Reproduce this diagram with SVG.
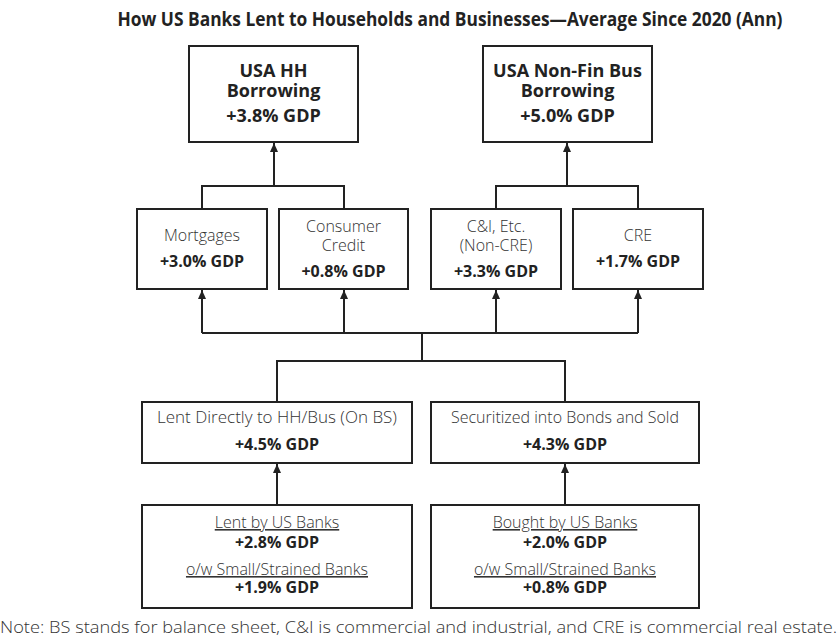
<svg xmlns="http://www.w3.org/2000/svg" width="840" height="644" viewBox="0 0 840 644">
<style>
  .box { fill: #fff; stroke: #222; stroke-width: 2; }
  .ln { fill: none; stroke: #222; stroke-width: 2; }
  text { font-family: "Open Sans", "Noto Sans", "Liberation Sans", sans-serif; fill: #222; text-anchor: middle; }
  .t { font-size: 16px; font-weight: 300; fill: #333; }
  .b { font-size: 16px; font-weight: 700; }
  .hb { font-size: 18px; font-weight: 700; }
  .u { text-decoration: underline; }
  .title { font-size: 19px; font-weight: 700; }
  .note { font-size: 16px; font-weight: 300; text-anchor: start; fill: #333; }
</style>
<defs>
  <marker id="ah" viewBox="0 0 9 10" refX="9" refY="5" markerWidth="9" markerHeight="10" markerUnits="userSpaceOnUse" orient="auto">
    <path d="M0,1 L9,5 L0,9 Z" fill="#222"/>
  </marker>
</defs>
<rect width="840" height="644" fill="#fff"/>
<text class="title" x="450" y="26" textLength="665" lengthAdjust="spacingAndGlyphs">How US Banks Lent to Households and Businesses—Average Since 2020 (Ann)</text>

<g id="connectors">
  <path class="ln" d="M202,209 V186 H344 V209"/>
  <path class="ln" d="M274,186 V143" marker-end="url(#ah)"/>
  <path class="ln" d="M496,209 V186 H638 V209"/>
  <path class="ln" d="M567,186 V143" marker-end="url(#ah)"/>
  <path class="ln" d="M202,333 H638"/>
  <path class="ln" d="M202,333 V290" marker-end="url(#ah)"/>
  <path class="ln" d="M344,333 V290" marker-end="url(#ah)"/>
  <path class="ln" d="M496,333 V290" marker-end="url(#ah)"/>
  <path class="ln" d="M638,333 V290" marker-end="url(#ah)"/>
  <path class="ln" d="M422,333 V361"/>
  <path class="ln" d="M277,402 V361 H565 V402"/>
  <path class="ln" d="M277,505 V464" marker-end="url(#ah)"/>
  <path class="ln" d="M565,505 V464" marker-end="url(#ah)"/>
</g>

<g id="hh">
  <rect class="box" x="189" y="46" width="169" height="96"/>
  <text class="hb" x="273.5" y="77">USA HH</text>
  <text class="hb" x="273.5" y="97">Borrowing</text>
  <text class="hb" x="273.5" y="122">+3.8% GDP</text>
</g>
<g id="bus">
  <rect class="box" x="483" y="46" width="169" height="96"/>
  <text class="hb" x="567.5" y="77">USA Non-Fin Bus</text>
  <text class="hb" x="567.5" y="97">Borrowing</text>
  <text class="hb" x="567.5" y="122">+5.0% GDP</text>
</g>

<g id="mortgages">
  <rect class="box" x="137" y="209" width="130" height="80"/>
  <text class="t" x="202" y="241">Mortgages</text>
  <text class="b" x="202" y="267">+3.0% GDP</text>
</g>
<g id="consumer">
  <rect class="box" x="279" y="209" width="129" height="80"/>
  <text class="t" x="343.5" y="232">Consumer</text>
  <text class="t" x="343.5" y="251">Credit</text>
  <text class="b" x="343.5" y="277">+0.8% GDP</text>
</g>
<g id="ci">
  <rect class="box" x="431" y="209" width="130" height="80"/>
  <text class="t" x="496" y="232">C&amp;I, Etc.</text>
  <text class="t" x="496" y="251">(Non-CRE)</text>
  <text class="b" x="496" y="277">+3.3% GDP</text>
</g>
<g id="cre">
  <rect class="box" x="573" y="209" width="130" height="80"/>
  <text class="t" x="638" y="241">CRE</text>
  <text class="b" x="638" y="267">+1.7% GDP</text>
</g>

<g id="direct">
  <rect class="box" x="142" y="402" width="270" height="61"/>
  <text class="t" x="277" y="423" textLength="240" lengthAdjust="spacingAndGlyphs">Lent Directly to HH/Bus (On BS)</text>
  <text class="b" x="277" y="450">+4.5% GDP</text>
</g>
<g id="securitized">
  <rect class="box" x="431" y="402" width="268" height="61"/>
  <text class="t" x="565" y="423">Securitized into Bonds and Sold</text>
  <text class="b" x="565" y="450">+4.3% GDP</text>
</g>

<g id="lentbanks">
  <rect class="box" x="142" y="505" width="270" height="103"/>
  <text class="t u" x="277" y="528">Lent by US Banks</text>
  <text class="b" x="277" y="548">+2.8% GDP</text>
  <text class="t u" x="277" y="575">o/w Small/Strained Banks</text>
  <text class="b" x="277" y="593">+1.9% GDP</text>
</g>
<g id="boughtbanks">
  <rect class="box" x="431" y="505" width="268" height="103"/>
  <text class="t u" x="565" y="528">Bought by US Banks</text>
  <text class="b" x="565" y="548">+2.0% GDP</text>
  <text class="t u" x="565" y="575">o/w Small/Strained Banks</text>
  <text class="b" x="565" y="593">+0.8% GDP</text>
</g>

<text class="note" x="0" y="633" textLength="837" lengthAdjust="spacingAndGlyphs">Note: BS stands for balance sheet, C&amp;I is commercial and industrial, and CRE is commercial real estate.</text>
</svg>
